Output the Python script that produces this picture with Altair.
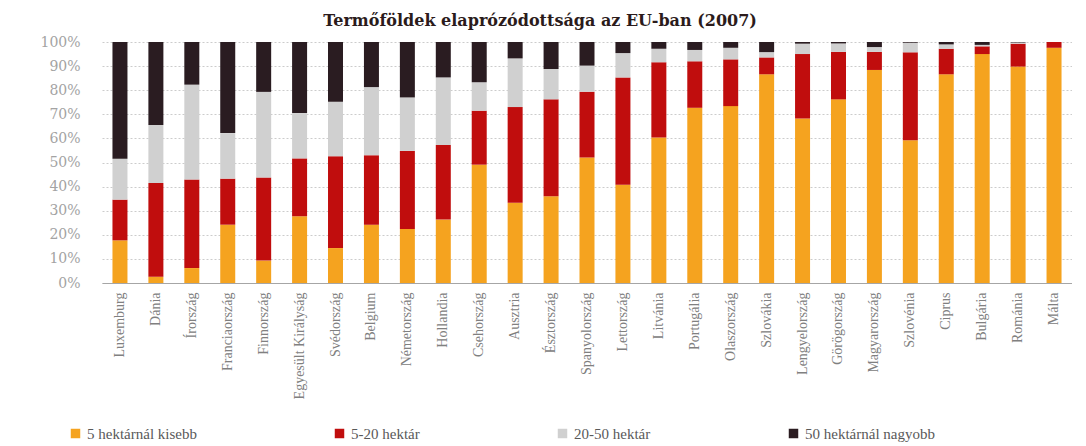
import altair as alt
import pandas as pd

countries = ["Luxemburg", "Dánia", "Írország", "Franciaország", "Finnország",
             "Egyesült Királyság", "Svédország", "Belgium", "Németország", "Hollandia",
             "Csehország", "Ausztria", "Észtország", "Spanyolország", "Lettország",
             "Litvánia", "Portugália", "Olaszország", "Szlovákia", "Lengyelország",
             "Görögország", "Magyarország", "Szlovénia", "Ciprus", "Bulgária",
             "Románia", "Málta"]

under5 = [17.7, 2.6, 6.2, 24.2, 9.3, 27.7, 14.5, 24.2, 22.4, 26.3, 49.1, 33.3, 36.0, 52.1,
          40.8, 60.4, 72.7, 73.4, 86.6, 68.3, 76.2, 88.4, 59.2, 86.6, 95.0, 89.8, 97.6]
from5to20 = [16.9, 38.9, 36.7, 19.1, 34.5, 24.0, 38.1, 28.8, 32.4, 31.0, 22.4, 39.7, 40.2, 27.3,
             44.5, 31.2, 19.3, 19.4, 7.0, 26.7, 19.7, 7.5, 36.5, 10.6, 3.2, 9.5, 2.4]
from20to50 = [17.0, 24.1, 39.4, 18.9, 35.5, 18.8, 22.6, 28.3, 22.2, 28.0, 11.8, 20.2, 12.6, 10.8,
              10.1, 5.6, 4.7, 4.8, 2.2, 4.3, 3.5, 2.0, 4.0, 1.8, 0.6, 0.5, 0.0]
over50 = [48.4, 34.4, 17.7, 37.8, 20.7, 29.5, 24.8, 18.7, 23.0, 14.7, 16.7, 6.8, 11.2, 9.8,
          4.6, 2.8, 3.3, 2.4, 4.2, 0.7, 0.6, 2.1, 0.3, 1.0, 1.2, 0.2, 0.0]

categories = ["5 hektárnál kisebb", "5-20 hektár", "20-50 hektár", "50 hektárnál nagyobb"]
colors = ["#F5A31F", "#C00D0D", "#D0D0D0", "#2A1C21"]
y_ticks = [0, 0.1, 0.2, 0.3, 0.4, 0.5, 0.6, 0.7, 0.8, 0.9, 1.0]

rows = []
for i, c in enumerate(countries):
    for k, series in enumerate([under5, from5to20, from20to50, over50]):
        rows.append({"orszag": c, "kategoria": categories[k], "ertek": series[i], "rend": k})
df = pd.DataFrame(rows)

chart = alt.Chart(df).mark_bar(size=15).encode(
    x=alt.X("orszag:N", sort=countries,
            scale=alt.Scale(paddingInner=0.58, paddingOuter=0.29),
            axis=alt.Axis(title=None, labelAngle=-90, labelFont="Liberation Serif",
                          labelFontSize=14, labelColor="#808080", ticks=False,
                          domainColor="#a6a6a6", domainWidth=1, labelPadding=9,
                          labelLimit=220)),
    y=alt.Y("ertek:Q", stack="normalize",
            axis=alt.Axis(title=None, values=y_ticks, format=".0%", grid=True,
                          gridDash=[2, 2], gridColor="#cccccc", domain=False, ticks=False,
                          labelFont="DejaVu Serif", labelFontSize=14, labelColor="#a3a3a3",
                          labelPadding=22)),
    color=alt.Color("kategoria:N", sort=categories,
                    scale=alt.Scale(domain=categories, range=colors),
                    legend=alt.Legend(title=None, orient="none", legendX=-34, legendY=384,
                                      direction="horizontal", symbolType="square",
                                      symbolSize=90, symbolStrokeWidth=0,
                                      labelFont="Liberation Serif", labelFontSize=15,
                                      labelColor="#595959", gridAlign="none",
                                      columnPadding=135, labelLimit=300)),
    order=alt.Order("rend:Q", sort="ascending"),
).properties(
    width=970,
    height=241,
    title=alt.Title("Termőföldek elaprózódottsága az EU-ban (2007)",
                    font="DejaVu Serif", fontSize=16, fontWeight="bold",
                    color="#2b1b1b", anchor="middle", dx=-47, offset=6),
    padding={"left": 31, "top": 5, "right": 0, "bottom": 0},
).configure_view(stroke=None)

chart.save("out.html", embed_options={"renderer": "svg", "actions": False})
